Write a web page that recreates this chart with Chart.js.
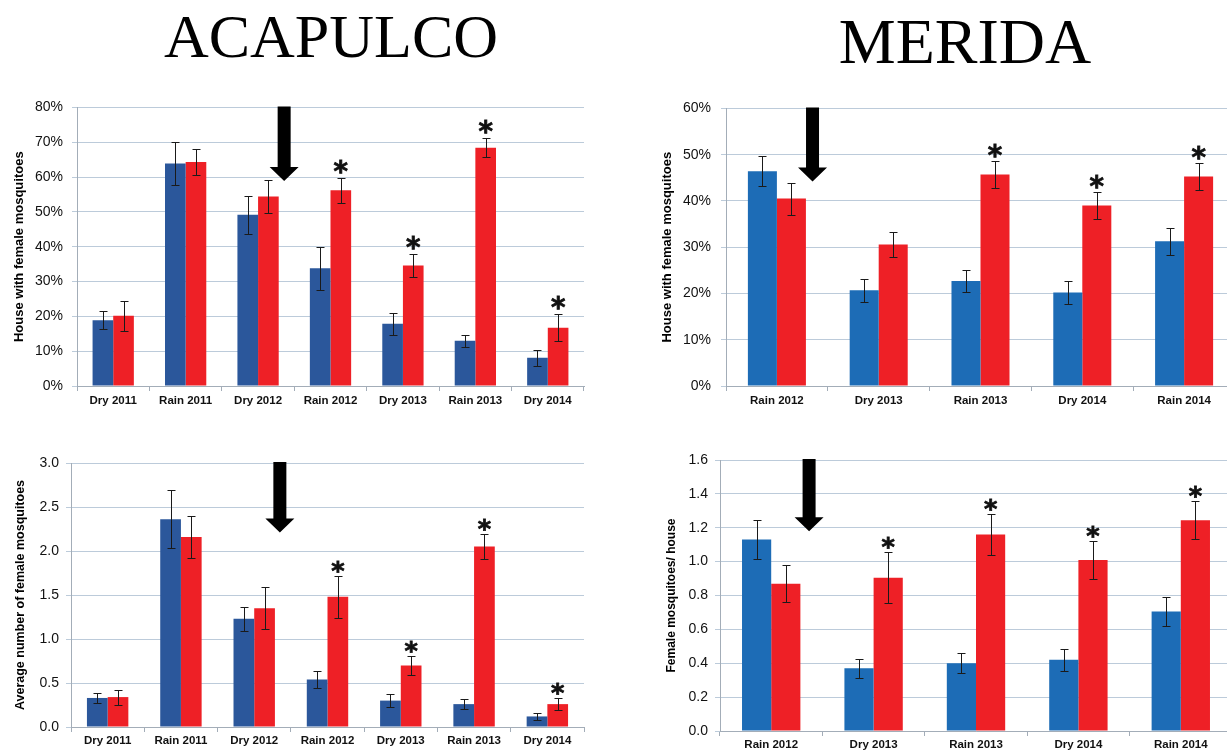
<!DOCTYPE html>
<html>
<head>
<meta charset="utf-8">
<script src="https://cdn.jsdelivr.net/npm/chart.js@4"></script>
<style>
  html, body { margin: 0; padding: 0; background: #fff; width: 1227px; height: 750px; overflow: hidden; }
  .title { position: absolute; width: 600px; text-align: center; font-family: "Liberation Serif", serif; color: #000; line-height: 1; white-space: nowrap; }
  canvas { position: absolute; }
</style>
</head>
<body>
<div class="title" id="t1" style="left:31px; top:5px; font-size:62px;">ACAPULCO</div>
<div class="title" id="t2" style="left:665px; top:10px; font-size:64px;">MERIDA</div>
<canvas id="cA" width="600" height="330" style="left:0px; top:90px;"></canvas>
<canvas id="cB" width="640" height="330" style="left:600px; top:90px;"></canvas>
<canvas id="cC" width="600" height="310" style="left:0px; top:440px;"></canvas>
<canvas id="cD" width="640" height="310" style="left:600px; top:440px;"></canvas>
<script>
// ---------- DATA ----------
const acaCategories = ['Dry 2011', 'Rain 2011', 'Dry 2012', 'Rain 2012', 'Dry 2013', 'Rain 2013', 'Dry 2014'];
const merCategories = ['Rain 2012', 'Dry 2013', 'Rain 2013', 'Dry 2014', 'Rain 2014'];

// Acapulco: houses with female mosquitoes (%)
const acaHouseBlue    = [18.9, 63.9, 49.2, 33.8, 17.9, 13.0, 8.1];
const acaHouseBlueErr = [2.65, 6.05, 5.5, 6.1, 3.15, 1.75, 2.35];
const acaHouseRed     = [20.2, 64.3, 54.4, 56.2, 34.6, 68.4, 16.7];
const acaHouseRedErr  = [4.35, 3.65, 4.7, 3.55, 3.35, 2.75, 3.9];
const acaHouseSig     = [false, false, false, true, true, true, true];

// Acapulco: average number of female mosquitoes
const acaAvgBlue    = [0.33, 2.36, 1.23, 0.54, 0.30, 0.26, 0.12];
const acaAvgBlueErr = [0.055, 0.33, 0.135, 0.10, 0.072, 0.053, 0.036];
const acaAvgRed     = [0.34, 2.16, 1.35, 1.48, 0.70, 2.05, 0.26];
const acaAvgRedErr  = [0.085, 0.235, 0.24, 0.24, 0.105, 0.14, 0.07];
const acaAvgSig     = [false, false, false, true, true, true, true];

// Merida: houses with female mosquitoes (%)
const merHouseBlue    = [46.4, 20.7, 22.7, 20.2, 31.3];
const merHouseBlueErr = [3.25, 2.5, 2.45, 2.4, 2.9];
const merHouseRed     = [40.5, 30.6, 45.7, 39.0, 45.3];
const merHouseRedErr  = [3.45, 2.75, 2.9, 2.9, 2.95];
const merHouseSig     = [false, false, true, true, true];

// Merida: female mosquitoes / house
const merAvgBlue    = [1.13, 0.37, 0.40, 0.42, 0.705];
const merAvgBlueErr = [0.117, 0.057, 0.06, 0.063, 0.088];
const merAvgRed     = [0.87, 0.905, 1.16, 1.01, 1.245];
const merAvgRedErr  = [0.111, 0.15, 0.122, 0.112, 0.113];
const merAvgSig     = [false, true, true, true, true];

// Arrow annotations (category position, value of tip)
const acaHouseArrow = { at: 2.36, tip: 58.9 };
const acaAvgArrow   = { at: 2.35, tip: 2.21 };
const merHouseArrow = { at: 0.35, tip: 44.2 };
const merAvgArrow   = { at: 0.37, tip: 1.18 };

// ---------- STYLE ----------
const ACA_BLUE = '#2b579b';
const MER_BLUE = '#1d6cb6';
const RED = '#ee2026';
const GRID = '#bccbda';
const AXIS = '#a3adb8';

Chart.defaults.font.family = '"Liberation Sans", Arial, sans-serif';

const overlay = {
  id: 'overlay',
  afterDatasetsDraw(chart, args, opts) {
    const ctx = chart.ctx;
    const ys = chart.scales.y, xs = chart.scales.x;
    ctx.save();
    // error bars
    ctx.strokeStyle = '#1a1a1a';
    ctx.lineWidth = 1;
    opts.errors.forEach((errs, di) => {
      const meta = chart.getDatasetMeta(di);
      const vals = chart.data.datasets[di].data;
      meta.data.forEach((bar, i) => {
        const t = Math.round(ys.getPixelForValue(vals[i] + errs[i])) + 0.5;
        const b = Math.round(ys.getPixelForValue(vals[i] - errs[i])) + 0.5;
        const x = Math.round(bar.x) + 0.5;
        ctx.beginPath();
        ctx.moveTo(x, t); ctx.lineTo(x, b);
        ctx.moveTo(x - 4, t); ctx.lineTo(x + 4, t);
        ctx.moveTo(x - 4, b); ctx.lineTo(x + 4, b);
        ctx.stroke();
      });
    });
    // asterisks
    ctx.fillStyle = '#111';
    ctx.strokeStyle = '#111';
    ctx.lineWidth = 0.8;
    ctx.font = 'bold 100px "DejaVu Sans"';
    let m = ctx.measureText('*');
    const h100 = m.actualBoundingBoxAscent + m.actualBoundingBoxDescent;
    const size = 100 * opts.starH / h100;
    ctx.font = 'bold ' + size + 'px "DejaVu Sans"';
    m = ctx.measureText('*');
    ctx.textAlign = 'center';
    ctx.textBaseline = 'alphabetic';
    const redMeta = chart.getDatasetMeta(1);
    const redVals = chart.data.datasets[1].data;
    opts.sig.forEach((s, i) => {
      if (!s) return;
      const top = ys.getPixelForValue(redVals[i] + opts.errors[1][i]);
      const cy = top - opts.starGap;
      const base = cy + (m.actualBoundingBoxAscent - m.actualBoundingBoxDescent) / 2;
      ctx.fillText('*', redMeta.data[i].x, base);
      ctx.strokeText('*', redMeta.data[i].x, base);
    });
    // arrow
    const ax = xs.getPixelForValue(opts.arrow.at);
    const tipY = ys.getPixelForValue(opts.arrow.tip);
    const topY = chart.chartArea.top - 1;
    const sw = 6.5, hw = 14.5, hh = 14;
    ctx.fillStyle = '#000';
    ctx.beginPath();
    ctx.moveTo(ax - sw, topY);
    ctx.lineTo(ax + sw, topY);
    ctx.lineTo(ax + sw, tipY - hh);
    ctx.lineTo(ax + hw, tipY - hh);
    ctx.lineTo(ax, tipY);
    ctx.lineTo(ax - hw, tipY - hh);
    ctx.lineTo(ax - sw, tipY - hh);
    ctx.closePath();
    ctx.fill();
    ctx.restore();
  }
};

function makeChart(id, cfg) {
  return new Chart(document.getElementById(id), {
    type: 'bar',
    data: {
      labels: cfg.labels,
      datasets: [
        { data: cfg.blue, backgroundColor: cfg.blueColor, borderWidth: 0, barPercentage: 1.0, categoryPercentage: cfg.catPct },
        { data: cfg.red, backgroundColor: RED, borderWidth: 0, barPercentage: 1.0, categoryPercentage: cfg.catPct }
      ]
    },
    options: {
      responsive: false,
      animation: false,
      devicePixelRatio: 1,
      layout: { padding: { top: cfg.padTop, right: cfg.padRight, left: 0, bottom: 0 } },
      plugins: {
        legend: { display: false },
        tooltip: { enabled: false },
        overlay: { errors: [cfg.blueErr, cfg.redErr], sig: cfg.sig, arrow: cfg.arrow, starH: cfg.starH, starGap: cfg.starGap }
      },
      scales: {
        x: {
          offset: true,
          grid: { offset: true, drawOnChartArea: false, drawTicks: true, tickLength: 5, color: AXIS },
          border: { color: AXIS, width: 1 },
          ticks: { font: { size: 11.5, weight: 'bold' }, color: '#111', padding: cfg.xPad, maxRotation: 0, autoSkip: false },
          afterFit: s => { s.height = cfg.xHeight; }
        },
        y: {
          min: 0, max: cfg.yMax,
          grid: { color: GRID, lineWidth: 1, tickLength: 5 },
          border: { color: AXIS, width: 1 },
          ticks: { stepSize: cfg.yStep, font: { size: 14 }, color: '#111', padding: cfg.yPad, callback: cfg.fmt },
          title: { display: true, text: cfg.yTitle, font: { size: cfg.yTitleSize, weight: 'bold' }, color: '#000', padding: { top: cfg.yTitlePad, bottom: 0 } },
          afterFit: s => { s.width = cfg.yWidth; }
        }
      }
    },
    plugins: [overlay]
  });
}

const pct = v => v + '%';
const dec = v => Number(v).toFixed(1);

makeChart('cA', {
  labels: acaCategories, blue: acaHouseBlue, red: acaHouseRed, blueErr: acaHouseBlueErr, redErr: acaHouseRedErr,
  sig: acaHouseSig, arrow: acaHouseArrow, blueColor: ACA_BLUE, catPct: 0.57,
  padTop: 11, padRight: 16, xHeight: 34, xPad: 3, yWidth: 77, yMax: 80, yStep: 10, yPad: 9, fmt: pct,
  yTitle: 'House with female mosquitoes', yTitleSize: 13, yTitlePad: 12, starH: 13, starGap: 11
});
makeChart('cB', {
  labels: merCategories, blue: merHouseBlue, red: merHouseRed, blueErr: merHouseBlueErr, redErr: merHouseRedErr,
  sig: merHouseSig, arrow: merHouseArrow, blueColor: MER_BLUE, catPct: 0.57,
  padTop: 11, padRight: 5, xHeight: 34, xPad: 3, yWidth: 126, yMax: 60, yStep: 10, yPad: 10, fmt: pct,
  yTitle: 'House with female mosquitoes', yTitleSize: 13, yTitlePad: 60, starH: 13, starGap: 10
});
makeChart('cC', {
  labels: acaCategories, blue: acaAvgBlue, red: acaAvgRed, blueErr: acaAvgBlueErr, redErr: acaAvgRedErr,
  sig: acaAvgSig, arrow: acaAvgArrow, blueColor: ACA_BLUE, catPct: 0.565,
  padTop: 23, padRight: 16, xHeight: 23, xPad: 2, yWidth: 71, yMax: 3.0, yStep: 0.5, yPad: 7, fmt: dec,
  yTitle: 'Average number of female mosquitoes', yTitleSize: 12.5, yTitlePad: 13, starH: 12, starGap: 9
});
makeChart('cD', {
  labels: merCategories, blue: merAvgBlue, red: merAvgRed, blueErr: merAvgBlueErr, redErr: merAvgRedErr,
  sig: merAvgSig, arrow: merAvgArrow, blueColor: MER_BLUE, catPct: 0.57,
  padTop: 20, padRight: 8, xHeight: 19, xPad: 2, yWidth: 120, yMax: 1.6, yStep: 0.2, yPad: 7, fmt: dec,
  yTitle: 'Female mosquitoes/ house', yTitleSize: 12, yTitlePad: 64, starH: 12, starGap: 9
});
</script>
</body>
</html>
